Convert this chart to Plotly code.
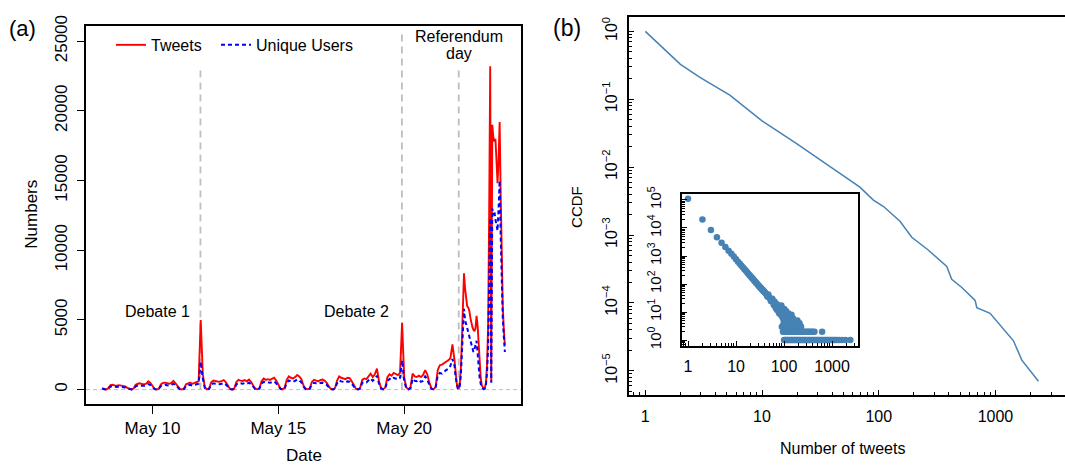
import pandas as pd
import plotly.graph_objects as go

# ---------------- panel (a) data ----------------
# 2-hourly counts, 2015-05-08 00:00 .. 2015-05-21 22:00 (12 values per day)
start_2h, end_2h = "2015-05-08 00:00", "2015-05-21 22:00"
tweets_2h = [
    100, 20, 10, 120, 330, 350, 300, 280, 320, 300, 290, 230,      # May 8
    130, 40, 10, 80, 350, 420, 450, 400, 380, 430, 600, 480,       # May 9
    250, 60, 10, 60, 380, 480, 500, 450, 420, 480, 620, 450,       # May 10
    200, 50, 10, 60, 380, 450, 500, 420, 480, 520, 600, 5000,      # May 11
    1100, 150, 20, 80, 520, 650, 600, 580, 560, 600, 680, 520,     # May 12
    250, 50, 15, 80, 550, 700, 650, 620, 680, 600, 720, 560,       # May 13
    300, 60, 20, 100, 600, 800, 700, 750, 700, 800, 850, 650,      # May 14
    350, 80, 20, 120, 700, 950, 850, 800, 900, 1050, 950, 750,     # May 15
    300, 60, 20, 100, 550, 700, 650, 600, 680, 720, 650, 500,      # May 16
    250, 50, 20, 100, 650, 950, 850, 800, 750, 850, 820, 600,      # May 17
    300, 60, 20, 120, 700, 800, 750, 1000, 1150, 900, 1100, 1500,  # May 18
    600, 100, 30, 150, 900, 1100, 1000, 1200, 1150, 1050, 1200, 4800,  # May 19
    900, 150, 30, 150, 1150, 950, 900, 1000, 900, 1050, 1400, 1100,    # May 20
    500, 100, 20, 200, 1400, 1750, 1800, 1900, 1950, 2100, 2250, 3250, # May 21
]
users_2h = [
    80, 15, 5, 80, 220, 240, 200, 190, 220, 200, 200, 160,
    90, 25, 5, 50, 240, 290, 310, 280, 270, 300, 400, 330,
    170, 40, 5, 40, 260, 330, 350, 310, 290, 330, 420, 320,
    140, 35, 5, 40, 260, 310, 350, 290, 330, 360, 420, 2000,
    800, 100, 10, 50, 360, 450, 420, 400, 390, 420, 470, 360,
    180, 35, 10, 50, 380, 480, 450, 430, 470, 420, 500, 390,
    210, 40, 10, 70, 420, 560, 490, 520, 490, 560, 590, 450,
    240, 55, 10, 80, 490, 660, 590, 560, 630, 730, 660, 520,
    210, 40, 10, 70, 380, 490, 450, 420, 470, 500, 450, 350,
    175, 35, 10, 70, 450, 660, 590, 560, 520, 590, 570, 420,
    210, 40, 10, 80, 490, 560, 520, 700, 800, 630, 770, 1000,
    420, 70, 20, 100, 630, 770, 700, 840, 800, 730, 840, 2100,
    600, 100, 20, 100, 770, 630, 600, 700, 560, 630, 950, 750,
    300, 50, 15, 150, 1000, 1200, 1150, 1300, 1400, 1500, 1700, 2200,
]
# hourly counts, 2015-05-22 00:00 .. 2015-05-24 00:00
start_1h, end_1h = "2015-05-22 00:00", "2015-05-24 00:00"
tweets_1h = [
    2100, 1200, 500, 150, 50, 400, 1500, 3500, 6500, 8350, 7300, 6600,
    6000, 5900, 5700, 5200, 4700, 4500, 4300, 4200, 4400, 5300, 4600, 3000,   # May 22
    2000, 800, 300, 150, 60, 150, 500, 1800, 4500, 12500, 23200, 600,
    19000, 18100, 17800, 18000, 16000, 14800, 16500, 19200, 14000, 8000, 6000, 4300,  # May 23
    3200,
]
users_1h = [
    1700, 900, 350, 100, 30, 250, 1000, 2500, 4500, 5800, 5000, 4700,
    4400, 4200, 3900, 3600, 3300, 3000, 2700, 2900, 3300, 3500, 2600, 1500,
    800, 400, 150, 60, 30, 100, 400, 1200, 3000, 9000, 12300, 500,
    13000, 12500, 12800, 12200, 11600, 11400, 13000, 15000, 11000, 6800, 5100, 3800,
    2700,
]
event_times = ["2015-05-11 21:45", "2015-05-19 21:50", "2015-05-22 04:00"]
event_tops = [22900, 25600, 23000]
date_tick_vals = ["2015-05-10", "2015-05-15", "2015-05-20"]
date_tick_text = ["May 10", "May 15", "May 20"]
count_ticks = [0, 5000, 10000, 15000, 20000, 25000]

# ---------------- panel (b) data ----------------
ccdf_x = [1, 2, 2.94, 5.3, 10, 19.8, 38, 69, 90, 110, 152, 192, 267, 383, 422,
          515, 670, 692, 900, 1061, 1427, 1683, 2337]
ccdf_y = [1, 0.327, 0.21, 0.115, 0.048, 0.0223, 0.0103, 0.00507, 0.00327,
          0.00263, 0.0016, 0.000927, 0.000597, 0.000345, 0.000223, 0.000169,
          0.000109, 8.5e-5, 7.05e-5, 5.07e-5, 2.77e-5, 1.44e-5, 7.05e-6]

# inset: number of users having k tweets
freq_k = [1, 2, 3, 4, 5, 6, 7, 8, 9, 10, 11, 12, 13, 14, 15, 16, 17, 18, 19, 20,
          21, 22, 23, 24, 25, 26, 27, 28, 29, 30,
          31, 32, 33, 34, 35, 36, 37, 38, 39, 40, 42, 44, 46, 48, 50, 52, 54, 56,
          58, 60, 62, 64, 66, 68, 70, 72, 75, 78, 80,
          45, 47, 53, 57, 61, 63, 67, 69, 71, 73, 76, 77, 79,
          82, 84, 85, 87, 88, 90, 92, 93, 95, 96, 98, 100, 101, 103, 105, 106, 108,
          110, 112, 115, 117, 118, 120, 122, 125, 127, 130, 133, 135, 138, 140,
          143, 146, 150, 153, 157, 160, 165, 170, 175, 180, 190, 200, 210, 225,
          90, 98, 104, 112, 120, 127, 135, 145, 155, 165, 180, 195, 210, 225,
          95, 100, 105, 110, 116, 122, 128, 135, 142, 150, 158, 166, 175, 185,
          195, 205, 218, 230, 245, 260, 280, 300, 320, 345, 370, 400, 430, 620,
          100, 105, 110, 116, 122, 128, 135, 142, 150, 158, 166, 175, 185, 195,
          205, 218, 230, 245, 260, 275, 290, 310, 330, 350, 375, 400, 425, 450,
          480, 510, 545, 580, 620, 660, 700, 750, 800, 860, 920, 990, 1060, 1150,
          1250, 1400, 1600, 1900, 2400]
freq_n = [110000, 20000, 8500, 4700, 2950, 2100, 1550, 1200, 950, 760, 630, 530,
          450, 390, 340, 300, 265, 235, 210, 190, 172, 157, 144, 132, 122, 113,
          105, 98, 91, 85,
          80, 76, 71, 68, 64, 61, 57, 55, 52, 50, 45, 41, 38, 35, 32, 30, 27, 26,
          24, 22, 21, 19, 18, 17, 16, 15, 14, 13, 12,
          36, 42, 25, 30, 18, 24, 14, 20, 12, 18, 11, 16, 9,
          10, 14, 8, 11, 17, 9, 7, 12, 6, 10, 8, 5, 13, 7, 4, 9, 6,
          11, 5, 8, 3, 6, 4, 9, 5, 3, 7, 4, 6, 3, 5,
          8, 4, 3, 6, 4, 3, 5, 3, 4, 3, 5, 3, 4, 3,
          3, 4, 3, 4, 3, 4, 3, 4, 3, 3, 3, 4, 3, 3,
          2, 2, 2, 2, 2, 2, 2, 2, 2, 2, 2, 2, 2, 2,
          2, 2, 2, 2, 2, 2, 2, 2, 2, 2, 2, 2, 2, 2,
          1, 1, 1, 1, 1, 1, 1, 1, 1, 1, 1, 1, 1, 1,
          1, 1, 1, 1, 1, 1, 1, 1, 1, 1, 1, 1, 1, 1,
          1, 1, 1, 1, 1, 1, 1, 1, 1, 1, 1, 1, 1, 1,
          1, 1, 1, 1, 1]

ccdf_ticks = [1e-5, 1e-4, 1e-3, 1e-2, 1e-1, 1]
ccdf_tick_text = ["10<sup>−5</sup>", "10<sup>−4</sup>", "10<sup>−3</sup>",
                  "10<sup>−2</sup>", "10<sup>−1</sup>", "10<sup>0</sup>"]
tweet_ticks = [1, 10, 100, 1000]
tweet_tick_text = ["1", "10", "100", "1000"]
inset_y_ticks = [1, 10, 100, 1000, 10000, 100000]
inset_y_text = ["10<sup>0</sup>", "10<sup>1</sup>", "10<sup>2</sup>",
                "10<sup>3</sup>", "10<sup>4</sup>", "10<sup>5</sup>"]

# ---------------- figure ----------------
W, H = 1065, 466
FONT = "Liberation Sans, Arial, sans-serif"
RED, BLUE, GREY, STEEL = "#FF0000", "#0000FF", "#BEBEBE", "#4682B4"


def fx(p):
    return p / W


def fy(p):
    return 1 - p / H


times = list(pd.date_range(start_2h, end_2h, freq="2h")) + \
    list(pd.date_range(start_1h, end_1h, freq="1h"))
tweets = tweets_2h + tweets_1h
users = users_2h + users_1h

fig = go.Figure()
fig.add_trace(go.Scatter(x=times, y=tweets, mode="lines", name="Tweets",
                         line=dict(color=RED, width=1.9), legend="legend",
                         xaxis="x", yaxis="y"))
fig.add_trace(go.Scatter(x=times, y=users, mode="lines", name="Unique Users",
                         line=dict(color=BLUE, width=2, dash="4px,3px"),
                         legend="legend2", xaxis="x", yaxis="y"))

fig.add_trace(go.Scatter(x=ccdf_x, y=ccdf_y, mode="lines", showlegend=False,
                         line=dict(color=STEEL, width=1.5), xaxis="x2", yaxis="y2"))
fig.add_trace(go.Scatter(x=freq_k, y=freq_n, mode="markers", showlegend=False,
                         marker=dict(color=STEEL, size=6.5, line=dict(width=0)),
                         xaxis="x3", yaxis="y3"))

shapes = [dict(type="line", xref="x domain", yref="y", x0=0, x1=1, y0=0, y1=0,
               line=dict(color=GREY, width=1, dash="4px,3px"), layer="below")]
for t, top in zip(event_times, event_tops):
    shapes.append(dict(type="line", xref="x", yref="y", x0=t, x1=t, y0=0, y1=top,
                       line=dict(color=GREY, width=1.8, dash="7px,5px"), layer="below"))

ann = []


def text(x, y, s, size, angle=0, xanchor="center", xref="paper", yref="paper"):
    ann.append(dict(x=x, y=y, xref=xref, yref=yref, text=s, showarrow=False,
                    textangle=angle, xanchor=xanchor, yanchor="middle",
                    font=dict(size=size, color="black", family=FONT)))


text(fx(22), fy(18), "(a)", 22)
text(fx(567), fy(18), "(b)", 23)
text(fx(32), fy(210), "Numbers", 17, angle=-90)
text(fx(304), fy(458), "Date", 17)
text("2015-05-11 14:00", 5600, "Debate 1", 16, xanchor="right", xref="x", yref="y")
text("2015-05-19 11:30", 5600, "Debate 2", 16, xanchor="right", xref="x", yref="y")
text("2015-05-22 04:00", 25300, "Referendum", 16, xref="x", yref="y")
text("2015-05-22 04:00", 24100, "day", 16, xref="x", yref="y")
text(fx(577), fy(202), "CCDF", 15, angle=-90)
text(fx(842), fy(451), "Number of tweets", 16)

axis_common = dict(showline=True, linecolor="black", linewidth=1.5, showgrid=False,
                   zeroline=False, tickcolor="black", tickwidth=1.2)
minor_in = dict(ticks="inside", ticklen=3, tickcolor="black", tickwidth=1, showgrid=False)

fig.update_layout(
    width=W, height=H, margin=dict(l=0, r=0, t=0, b=0),
    paper_bgcolor="white", plot_bgcolor="rgba(0,0,0,0)",
    font=dict(family=FONT, color="black", size=16),
    shapes=shapes, annotations=ann,
    xaxis=dict(axis_common, domain=[fx(86), fx(521)], anchor="y", type="date",
               range=["2015-05-07 08:38", "2015-05-24 15:22"],
               tickmode="array", tickvals=date_tick_vals, ticktext=date_tick_text,
               ticks="outside", ticklen=8, mirror=True,
               tickfont=dict(family=FONT, size=17, color="black")),
    yaxis=dict(axis_common, domain=[fy(405), fy(15.7)], anchor="x",
               range=[-1020, 26070], tickmode="array", tickvals=count_ticks,
               ticktext=[str(v) for v in count_ticks], tickangle=-90,
               ticks="outside", ticklen=7, mirror=True, ticklabelstandoff=3,
               tickfont=dict(family=FONT, size=17, color="black")),
    xaxis2=dict(axis_common, domain=[fx(629.3), 1.0], anchor="y2", type="log",
                range=[-0.137, 3.596], tickmode="array", tickvals=tweet_ticks,
                ticktext=tweet_tick_text, ticks="inside", ticklen=5, mirror=True,
                minor=dict(minor_in, dtick="D1"), ticklabelstandoff=6,
                tickfont=dict(family=FONT, size=16, color="black")),
    yaxis2=dict(axis_common, domain=[fy(396), fy(6.7)], anchor="x2", type="log",
                range=[-5.357, 0.204], tickmode="array", tickvals=ccdf_ticks,
                ticktext=ccdf_tick_text, tickangle=-90, ticks="inside", ticklen=5,
                minor=dict(minor_in, dtick="D1"), ticklabelstandoff=4,
                tickfont=dict(family=FONT, size=16, color="black")),
    xaxis3=dict(axis_common, domain=[fx(682), fx(858)], anchor="y3", type="log",
                range=[-0.125, 3.54], tickmode="array", tickvals=tweet_ticks,
                ticktext=tweet_tick_text, ticks="inside", ticklen=5, mirror=True,
                minor=dict(minor_in, dtick="D1"), ticklabelstandoff=5,
                tickfont=dict(family=FONT, size=16, color="black")),
    yaxis3=dict(axis_common, domain=[fy(345), fy(189)], anchor="x3", type="log",
                range=[-0.197, 5.2], tickmode="array", tickvals=inset_y_ticks,
                ticktext=inset_y_text, tickangle=-90, ticks="inside", ticklen=5,
                mirror=True, minor=dict(minor_in, dtick="D1"), ticklabelstandoff=13,
                tickfont=dict(family=FONT, size=15, color="black")),
    legend=dict(x=fx(111), y=fy(35), xanchor="left", yanchor="middle",
                bgcolor="rgba(0,0,0,0)", font=dict(size=16, family=FONT)),
    legend2=dict(x=fx(216), y=fy(35), xanchor="left", yanchor="middle",
                 bgcolor="rgba(0,0,0,0)", font=dict(size=16, family=FONT)),
)

fig.write_html("out.html", config={"displayModeBar": False},
               post_script="document.body.style.margin='0px';"
                           "document.body.style.padding='0px';")
